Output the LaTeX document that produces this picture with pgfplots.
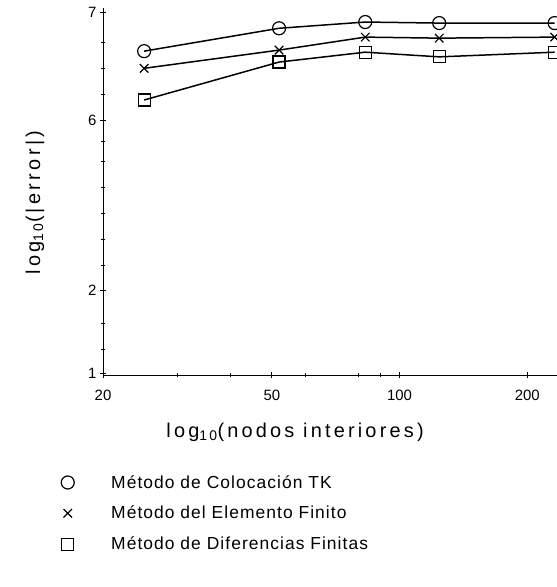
\documentclass[border=0pt]{standalone}
\usepackage{fontspec}
\setmainfont{Liberation Sans}
\newfontfamily\spaced[LetterSpace=16]{Liberation Sans}
\newfontfamily\legfont[LetterSpace=6]{Liberation Sans}
\usepackage{pgfplots}
\pgfplotsset{compat=1.18}

\begin{document}
\begin{tikzpicture}
\begin{axis}[
  name=main,
  at={(0,0)}, anchor=south west,
  scale only axis,
  width=454bp, height=367bp,
  xmode=log,
  xmin=20, xmax=235,
  ymin=0, ymax=7.06,
  axis x line=bottom, axis y line=left,
  axis line style={-, line width=1pt},
  xtick={20,50,100,200},
  xticklabels={20,50,100,200},
  minor xtick={30,40,60,80,90},
  ytick={0.04,1.63,4.90,6.98},
  yticklabels={1,2,6,7},
  minor ytick={0.5,1.0,2.1,2.6,3.1,3.6,4.1,4.5,5.4,5.9,6.4},
  tick align=center,
  major tick length=6bp, minor tick length=4bp,
  tick style={black, line width=0.8pt},
  /pgf/number format/assume math mode=true,
  tick label style={font=\fontsize{15}{18}\selectfont},
  xticklabel style={yshift=-9bp},
  xlabel={log\textsubscript{10}(nodos interiores)},
  ylabel={log\textsubscript{10}(|\,e\,r\,r\,o\,r\,|)},
  label style={font=\spaced\fontsize{20}{23}\selectfont},
  xlabel style={at={(axis description cs:0.423,-0.155)}, anchor=center},
  ylabel style={at={(axis description cs:-0.15,0.47)}, anchor=center},
  legend style={at={(-0.099,-0.262)}, anchor=north west, draw=none, fill=none,
    font=\legfont\fontsize{17.5}{20}\selectfont, row sep=12.5bp, column sep=35bp,
    legend cell align=left},
  legend image post style={only marks},
  every axis plot/.append style={black, line width=1.5pt, mark options={solid, line width=1.2pt, fill=white}},
  clip=false,
]
\addplot[mark=o, mark size=6.5bp] coordinates {
  (25,6.23) (52,6.67) (83,6.79) (124,6.77) (232,6.77)
};
\addplot[mark=x, mark size=6bp] coordinates {
  (25,5.90) (52,6.25) (83,6.50) (124,6.48) (232,6.50)
};
\addplot[mark=square, mark size=6bp] coordinates {
  (25,5.29) (52,6.02) (83,6.21) (124,6.12) (232,6.21)
};
\legend{Método de Colocación TK, Método del Elemento Finito, Método de Diferencias Finitas}
\end{axis}
\pgfresetboundingbox
\useasboundingbox (-103bp,-212bp) rectangle (454bp,375bp);
\end{tikzpicture}
\end{document}
